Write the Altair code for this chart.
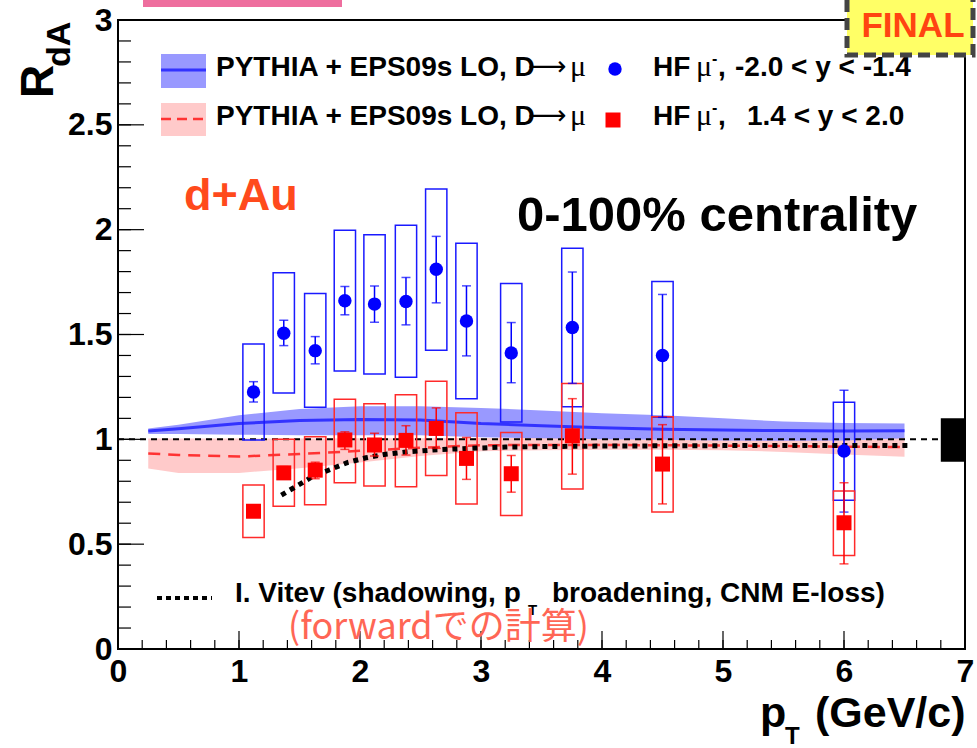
import altair as alt
import pandas as pd

# ---------------- data ----------------
pt = [1.12, 1.37, 1.63, 1.875, 2.12, 2.38, 2.63, 2.88, 3.25, 3.755, 4.50, 6.0]

# backward (blue) HF muons
r_b = [1.226, 1.506, 1.423, 1.661, 1.645, 1.657, 1.811, 1.564, 1.412, 1.533, 1.400, 0.944]
stat_b_hi = [1.275, 1.568, 1.490, 1.729, 1.731, 1.772, 1.968, 1.732, 1.557, 1.798, 1.691, 1.234]
stat_b_lo = [1.178, 1.447, 1.360, 1.594, 1.559, 1.546, 1.651, 1.398, 1.270, 1.267, 1.105, 0.653]
sys_b_hi = [1.455, 1.795, 1.696, 1.997, 1.976, 2.021, 2.194, 1.935, 1.743, 1.911, 1.753, 1.177]
sys_b_lo = [0.997, 1.221, 1.153, 1.326, 1.312, 1.296, 1.425, 1.194, 1.083, 1.156, 1.105, 0.710]

# forward (red) HF muons
r_r = [0.657, 0.840, 0.853, 0.997, 0.973, 0.995, 1.052, 0.909, 0.836, 1.017, 0.882, 0.602]
stat_r_hi = [0.680, 0.870, 0.891, 1.036, 1.029, 1.065, 1.150, 1.009, 0.923, 1.194, 1.070, 0.793]
stat_r_lo = [0.635, 0.810, 0.812, 0.952, 0.920, 0.925, 0.957, 0.809, 0.748, 0.834, 0.692, 0.406]
sys_r_hi = [0.782, 1.000, 1.012, 1.191, 1.170, 1.213, 1.277, 1.127, 1.032, 1.266, 1.108, 0.754]
sys_r_lo = [0.532, 0.681, 0.688, 0.793, 0.777, 0.774, 0.828, 0.691, 0.637, 0.763, 0.653, 0.446]

# PYTHIA + EPS09s bands
band_x = [0.25, 0.5, 1.0, 1.5, 2.0, 2.5, 3.0, 3.5, 4.0, 4.5, 5.0, 5.5, 6.0, 6.5]
bb_mid = [1.040, 1.050, 1.075, 1.090, 1.095, 1.092, 1.075, 1.065, 1.055, 1.048, 1.044, 1.042, 1.040, 1.041]
bb_hi = [1.052, 1.070, 1.115, 1.145, 1.158, 1.158, 1.150, 1.138, 1.125, 1.115, 1.100, 1.085, 1.078, 1.076]
bb_lo = [1.025, 1.025, 1.022, 1.020, 1.020, 1.020, 1.010, 1.005, 1.000, 0.998, 0.995, 0.993, 0.995, 1.005]
rb_mid = [0.933, 0.925, 0.918, 0.930, 0.945, 0.960, 0.972, 0.973, 0.973, 0.972, 0.970, 0.968, 0.965, 0.963]
rb_hi = [1.004, 1.004, 1.004, 1.004, 1.005, 1.005, 1.006, 1.007, 1.008, 1.008, 1.008, 1.009, 1.010, 1.010]
rb_lo = [0.861, 0.840, 0.840, 0.862, 0.890, 0.920, 0.943, 0.948, 0.950, 0.950, 0.948, 0.940, 0.928, 0.917]

# I. Vitev calculation
vit_x = [1.35, 1.5, 1.6, 1.75, 1.9, 2.05, 2.2, 2.4, 2.6, 2.9, 3.2, 3.6, 4.0, 5.0, 6.0, 6.55]
vit_y = [0.734, 0.785, 0.820, 0.855, 0.890, 0.912, 0.928, 0.941, 0.949, 0.957, 0.963, 0.966, 0.968, 0.970, 0.971, 0.971]

# global normalisation uncertainty
norm_x = [6.8, 7.0]
norm_y = [0.893, 1.10]

x_major = [0, 1, 2, 3, 4, 5, 6, 7]
x_minor = [round(i * 0.2, 1) for i in range(36)]
y_major = [0, 0.5, 1.0, 1.5, 2.0, 2.5, 3.0]
y_minor = [round(i * 0.1, 1) for i in range(31)]

HW = 0.088  # half width of systematic boxes (x units)

# ---------------- styles ----------------
W, H = 847, 629
SANS = "Liberation Sans"
SERIF = "Liberation Serif"
BLUE = "#0000ff"
RED = "#ff0000"
XS = alt.Scale(domain=[0, 7], nice=False, zero=False)
YS = alt.Scale(domain=[0, 3], nice=False, zero=False)
XA = alt.Axis(values=x_major, title=None, ticks=False, domain=False, grid=False,
              labelFont=SANS, labelFontWeight="bold", labelFontSize=32, labelPadding=7,
              labelColor="black", labelFlush=False)
YA = alt.Axis(values=y_major, title=None, ticks=False, domain=False, grid=False,
              labelFont=SANS, labelFontWeight="bold", labelFontSize=32, labelPadding=6,
              labelColor="black", format=".1~f")


def X(f):
    return alt.X(f, type="quantitative", scale=XS, axis=XA)


def Y(f):
    return alt.Y(f, type="quantitative", scale=YS, axis=YA)


pts_b = pd.DataFrame({"x": pt, "y": r_b, "lo": stat_b_lo, "hi": stat_b_hi,
                      "slo": sys_b_lo, "shi": sys_b_hi})
pts_b["x1"] = pts_b["x"] - HW
pts_b["x2"] = pts_b["x"] + HW
pts_r = pd.DataFrame({"x": pt, "y": r_r, "lo": stat_r_lo, "hi": stat_r_hi,
                      "slo": sys_r_lo, "shi": sys_r_hi})
pts_r["x1"] = pts_r["x"] - HW
pts_r["x2"] = pts_r["x"] + HW
bands = pd.DataFrame({"x": band_x, "bm": bb_mid, "bh": bb_hi, "bl": bb_lo,
                      "rm": rb_mid, "rh": rb_hi, "rl": rb_lo})
vit = pd.DataFrame({"x": vit_x, "y": vit_y})
one = pd.DataFrame({"a": [0]})

layers = []

# bands
layers.append(alt.Chart(bands).mark_area(color="#ffb3b3", opacity=0.7).encode(
    x=X("x"), y=Y("rl"), y2="rh"))
layers.append(alt.Chart(bands).mark_area(color="#9999ff", opacity=1).encode(
    x=X("x"), y=Y("bl"), y2="bh"))
layers.append(alt.Chart(bands).mark_line(color="#ff3333", strokeWidth=2.5,
                                         strokeDash=[12, 8]).encode(x=X("x"), y=Y("rm")))
layers.append(alt.Chart(bands).mark_line(color="#3333ff", strokeWidth=3).encode(
    x=X("x"), y=Y("bm")))

# y = 1 reference line
layers.append(alt.Chart(pd.DataFrame({"x": [0], "x2": [7], "y": [1]})).mark_rule(
    color="black", strokeWidth=2, strokeDash=[6, 5]).encode(x=X("x"), x2="x2", y=Y("y")))

# systematic boxes
for df, col in ((pts_b, "#1a1aff"), (pts_r, "#ff2a2a")):
    layers.append(alt.Chart(df).mark_rect(filled=False, stroke=col, strokeWidth=1.5).encode(
        x=X("x1"), x2="x2", y=Y("slo"), y2="shi"))

# Vitev
layers.append(alt.Chart(vit).mark_line(color="black", strokeWidth=5, strokeDash=[5, 5],
                                       strokeCap="butt").encode(x=X("x"), y=Y("y")))

# stat error bars + caps
for df, col in ((pts_b, BLUE), (pts_r, RED)):
    layers.append(alt.Chart(df).mark_rule(color=col, strokeWidth=1.5).encode(
        x=X("x"), y=Y("lo"), y2="hi"))
    for f in ("lo", "hi"):
        layers.append(alt.Chart(df).mark_tick(color=col, orient="horizontal", size=9,
                                              thickness=1.5).encode(x=X("x"), y=Y(f)))

# points
layers.append(alt.Chart(pts_b).mark_point(shape="circle", filled=True, color=BLUE,
                                          size=180, opacity=1).encode(x=X("x"), y=Y("y")))
layers.append(alt.Chart(pts_r).mark_point(shape="square", filled=True, color=RED,
                                          size=225, opacity=1).encode(x=X("x"), y=Y("y")))

# normalisation box
layers.append(alt.Chart(pd.DataFrame({"x": [norm_x[0]], "x2": [norm_x[1]],
                                      "y": [norm_y[0]], "y2": [norm_y[1]]}))
              .mark_rect(color="black").encode(x=X("x"), x2="x2", y=Y("y"), y2="y2"))

# inward ticks (ROOT style)
layers.append(alt.Chart(pd.DataFrame({"v": x_minor})).mark_rule(color="black", strokeWidth=1.2)
              .encode(x=X("v"), y=alt.value(H), y2=alt.value(H - 9)))
layers.append(alt.Chart(pd.DataFrame({"v": x_major})).mark_rule(color="black", strokeWidth=1.2)
              .encode(x=X("v"), y=alt.value(H), y2=alt.value(H - 18)))
layers.append(alt.Chart(pd.DataFrame({"v": y_minor})).mark_rule(color="black", strokeWidth=1.2)
              .encode(y=Y("v"), x=alt.value(0), x2=alt.value(13)))
layers.append(alt.Chart(pd.DataFrame({"v": y_major})).mark_rule(color="black", strokeWidth=1.2)
              .encode(y=Y("v"), x=alt.value(0), x2=alt.value(26)))


def rect(x1, x2, y1, y2, **kw):
    return alt.Chart(one).mark_rect(**kw).encode(
        x=alt.value(x1), x2=alt.value(x2), y=alt.value(y1), y2=alt.value(y2))


def rule(x1, x2, y, **kw):
    return alt.Chart(one).mark_rule(**kw).encode(
        x=alt.value(x1), x2=alt.value(x2), y=alt.value(y))


def txt(s, x, y, size, color="black", weight="bold", font=SANS, align="left", angle=0,
        baseline="alphabetic"):
    return alt.Chart(one).mark_text(text=s, fontSize=size, fontWeight=weight, font=font,
                                    color=color, align=align, baseline=baseline,
                                    angle=angle).encode(x=alt.value(x), y=alt.value(y))


# legend
layers.append(rect(43, 88, 34, 68, color="#9999ff"))
layers.append(rule(43, 88, 50, color="#3333ff", strokeWidth=3))
layers.append(rect(43, 88, 83, 116, color="#ffb3b3", opacity=0.7))
layers.append(rule(43, 88, 99, color="#ff3333", strokeWidth=2.5, strokeDash=[10, 6]))
for yy in (56, 105):
    layers.append(txt("PYTHIA + EPS09s LO, D", 98, yy, 28))
    layers.append(txt("\u27f6", 410, yy - 1, 27, weight="normal", font="DejaVu Sans"))
    layers.append(txt("\u03bc", 452, yy, 30, weight="normal", font=SERIF))
    layers.append(txt("HF", 535, yy, 28))
    layers.append(txt("\u03bc", 578, yy, 30, weight="normal", font=SERIF))
    layers.append(txt("-", 594, yy - 12, 16))
    layers.append(txt(",", 600, yy, 28))
layers.append(txt("-2.0 < y < -1.4", 617, 56, 28))
layers.append(txt("1.4 < y < 2.0", 629, 105, 28))
layers.append(alt.Chart(one).mark_point(shape="circle", filled=True, color=BLUE, size=180,
                                        opacity=1).encode(x=alt.value(497), y=alt.value(49)))
layers.append(alt.Chart(one).mark_point(shape="square", filled=True, color=RED, size=225,
                                        opacity=1).encode(x=alt.value(495), y=alt.value(100)))

# annotations
layers.append(txt("d+Au", 66, 190, 45, color="#ff4a1c"))
layers.append(txt("0-100% centrality", 399, 211, 49))
layers.append(rule(39, 94, 578, color="black", strokeWidth=4, strokeDash=[5, 4]))
layers.append(txt("I. Vitev (shadowing, p", 117, 582, 28))
layers.append(txt("T", 410, 595, 15))
layers.append(txt("broadening, CNM E-loss)", 434, 582, 28))
layers.append(txt("(forward\u3067\u306e\u8a08\u7b97)", 170, 619, 36, color="#ff6655",
                  weight="normal", font="Noto Sans CJK JP"))

# axis titles
layers.append(txt("R", -65, 78, 46, angle=270))
layers.append(txt("dA", -48, 47, 34, angle=270))
layers.append(txt("p", 642, 707, 43))
layers.append(txt("T", 667, 724, 24))
layers.append(txt("(GeV/c)", 697, 707, 43))

# decorations at top
layers.append(rect(25, 224, -20, -13, color="#ee6e9e"))
layers.append(rect(729, 855, -30, 35, fill="#ffff66", stroke="#444444", strokeWidth=5,
                   strokeDash=[12, 6]))
layers.append(txt("FINAL", 795, 17, 35, color="#ff4411", align="center"))

chart = alt.layer(*layers).properties(
    width=W, height=H,
    padding={"left": 118, "top": 20, "right": 12, "bottom": 99},
    autosize=alt.AutoSizeParams(type="none"),
    background="white",
).configure_view(stroke="black", strokeWidth=2)

chart.save("out.html", embed_options={"renderer": "svg", "actions": False})
